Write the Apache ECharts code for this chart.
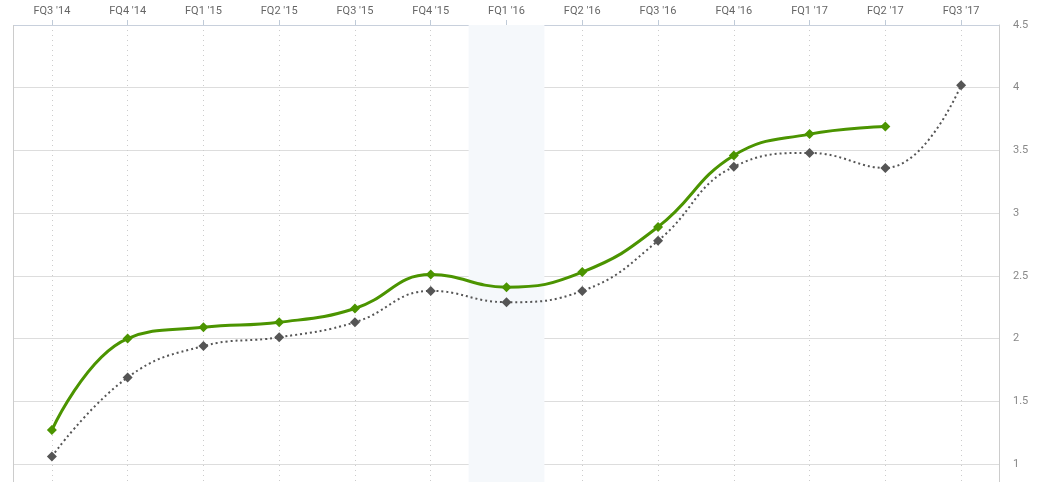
<!DOCTYPE html>
<html><head><meta charset="utf-8">
<script src="https://cdn.jsdelivr.net/npm/echarts@6/dist/echarts.min.js"></script>
<style>html,body{margin:0;padding:0;background:#fff;overflow:hidden;height:482px}#c{width:1044px;height:540px}</style>
</head><body><div id="c"></div>
<script>
const categories = ["FQ3 '14","FQ4 '14","FQ1 '15","FQ2 '15","FQ3 '15","FQ4 '15","FQ1 '16","FQ2 '16","FQ3 '16","FQ4 '16","FQ1 '17","FQ2 '17","FQ3 '17"];
const actualValues = [1.27, 2.00, 2.09, 2.13, 2.24, 2.51, 2.41, 2.53, 2.89, 3.46, 3.63, 3.69, null];
const estimateValues = [1.06, 1.69, 1.94, 2.01, 2.13, 2.38, 2.29, 2.38, 2.78, 3.37, 3.48, 3.36, 4.02];
const highlightCategory = "FQ1 '16";
const yTicks = {min: 0.5, max: 4.5, interval: 0.5};

const bandData = categories.map(c => c === highlightCategory ? yTicks.max : null);

const chart = echarts.init(document.getElementById('c'));
chart.setOption({
  animation: false,
  grid: {left: 14, right: 45, top: 25, bottom: 13.3, containLabel: false},
  xAxis: {
    type: 'category', data: categories, position: 'top', boundaryGap: true,
    axisLine: {show: true, lineStyle: {color: '#c8d0dc', width: 1}},
    axisTick: {show: true, alignWithLabel: true, length: 5, lineStyle: {color: '#c0cbd8'}},
    axisLabel: {color: '#666', fontSize: 11, fontFamily: 'Roboto, sans-serif', margin: 8},
    splitLine: {show: true, alignWithLabel: true, lineStyle: {color: '#cccccc', type: [1, 4], width: 1}}
  },
  yAxis: {
    type: 'value', position: 'right', min: yTicks.min, max: yTicks.max, interval: yTicks.interval,
    axisLine: {show: true, lineStyle: {color: '#cccccc'}},
    axisTick: {show: false},
    axisLabel: {color: '#888', fontSize: 11, fontFamily: 'Roboto, sans-serif', margin: 14},
    splitLine: {show: true, lineStyle: {color: '#dddddd', width: 1}}
  },
  series: [
    {type: 'bar', data: bandData, barWidth: '100%', silent: true, z: 0,
     itemStyle: {color: '#f5f8fb'}},
    {type: 'line', data: estimateValues, smooth: 0.45, symbol: 'diamond', symbolSize: 10,
     lineStyle: {color: '#555555', width: 2, type: [2, 3]}, itemStyle: {color: '#555555'}, z: 3},
    {type: 'line', data: actualValues, smooth: 0.45, symbol: 'diamond', symbolSize: 10,
     lineStyle: {color: '#4b9400', width: 3}, itemStyle: {color: '#4b9400'}, z: 4}
  ]
});
</script>
<div style="position:absolute;left:13px;top:25px;width:1px;height:457px;background:#cccccc"></div>
</body></html>
